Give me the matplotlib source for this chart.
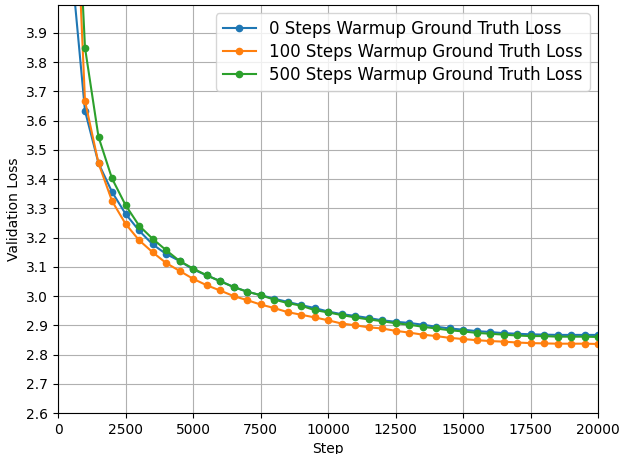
import numpy as np
import matplotlib
matplotlib.use("Agg")
import matplotlib.pyplot as plt

steps = list(range(500, 20001, 500))

loss_warmup_0 = [
    4.13, 3.633, 3.454, 3.356, 3.281, 3.224, 3.177, 3.144, 3.120, 3.091,
    3.071, 3.051, 3.031, 3.015, 3.003, 2.991, 2.980, 2.969, 2.959, 2.947,
    2.938, 2.932, 2.925, 2.917, 2.912, 2.908, 2.902, 2.895, 2.889, 2.885,
    2.880, 2.877, 2.873, 2.871, 2.869, 2.868, 2.867, 2.867, 2.867, 2.867,
]
loss_warmup_100 = [
    4.72, 3.667, 3.454, 3.325, 3.247, 3.191, 3.150, 3.113, 3.086, 3.059,
    3.037, 3.019, 3.000, 2.986, 2.971, 2.959, 2.945, 2.936, 2.927, 2.917,
    2.906, 2.900, 2.893, 2.889, 2.881, 2.875, 2.868, 2.863, 2.857, 2.853,
    2.849, 2.846, 2.844, 2.841, 2.839, 2.838, 2.837, 2.837, 2.837, 2.836,
]
loss_warmup_500 = [
    4.8, 3.849, 3.544, 3.402, 3.311, 3.241, 3.196, 3.157, 3.120, 3.094,
    3.071, 3.051, 3.031, 3.015, 3.003, 2.988, 2.976, 2.967, 2.952, 2.944,
    2.935, 2.927, 2.920, 2.914, 2.907, 2.902, 2.895, 2.889, 2.883, 2.879,
    2.874, 2.871, 2.868, 2.865, 2.863, 2.863, 2.861, 2.861, 2.861, 2.860,
]

labels = [
    "0 Steps Warmup Ground Truth Loss",
    "100 Steps Warmup Ground Truth Loss",
    "500 Steps Warmup Ground Truth Loss",
]

fig = plt.figure(figsize=(6.21, 4.54), dpi=100)
ax = fig.add_axes([0.0934, 0.0903, 0.8696, 0.8987])

for series, label in zip([loss_warmup_0, loss_warmup_100, loss_warmup_500], labels):
    ax.plot(steps, series, marker="o", markersize=4.5, label=label)

ax.set_xlim(0, 20000)
ax.set_ylim(2.6, 3.995)
ax.set_yticks(np.arange(2.6, 3.95, 0.1))
ax.set_xlabel("Step")
ax.set_ylabel("Validation Loss")
ax.grid(True)
ax.legend(loc="upper right", fontsize=12, labelspacing=0.3)

fig.savefig("out.png", dpi=100)
